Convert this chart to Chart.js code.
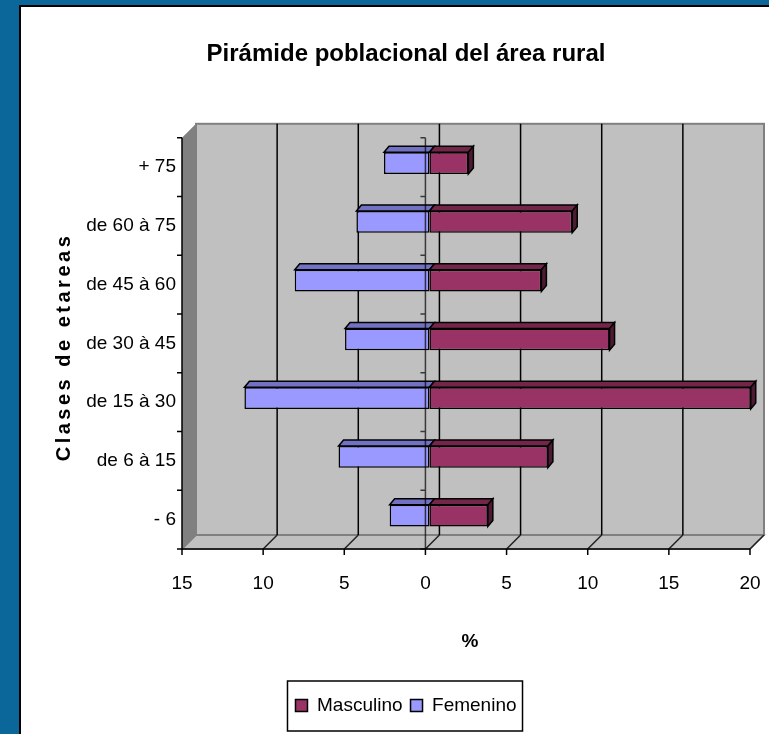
<!DOCTYPE html>
<html>
<head>
<meta charset="utf-8">
<title>Pirámide poblacional del área rural</title>
<script src="https://cdn.jsdelivr.net/npm/chart.js@4.4.1/dist/chart.umd.min.js"></script>
<style>
    html, body { margin: 0; padding: 0; background: #0b6699; overflow: hidden; }
    #frame {
        position: absolute; left: 19px; top: 5px; width: 760px; height: 740px;
        background: #fff; border-left: 2px solid #000; border-top: 2px solid #000;
    }
    #wrap { position: absolute; left: 0; top: 0; width: 769px; height: 734px; }
</style>
</head>
<body>
<div id="frame"></div>
<div id="wrap"><canvas id="pyramidChart"></canvas></div>
<script>
// age classes, top to bottom
const ageGroups = ['+ 75', 'de 60 à 75', 'de 45 à 60', 'de 30 à 45', 'de 15 à 30', 'de 6 à 15', '- 6'];
// percentages
const masculino = [2.4, 8.8, 6.9, 11.1, 19.8, 7.3, 3.6];
const femenino = [2.8, 4.5, 8.3, 5.2, 11.4, 5.6, 2.45];
const xMin = -15;
const xMax = 20;
const xStep = 5;

// 3D look: offsets of the front plane, back wall and bar depth from the bar plane
const front = { dx: -4, dy: 4 };
const back = { dx: 10, dy: -10 };
const barDepth = { dx: 5, dy: -6 };

const FONT = "'Liberation Sans', Arial, sans-serif";
Chart.defaults.font.family = FONT;
Chart.defaults.color = '#000';

function poly(ctx, pts, fill, stroke, lw) {
    ctx.beginPath();
    ctx.moveTo(pts[0][0], pts[0][1]);
    pts.slice(1).forEach(p => ctx.lineTo(p[0], p[1]));
    ctx.closePath();
    if (fill) { ctx.fillStyle = fill; ctx.fill(); }
    if (stroke) { ctx.strokeStyle = stroke; ctx.lineWidth = lw || 1; ctx.stroke(); }
}

// walls, floor, gridlines and front axes
const wallsPlugin = {
    id: 'walls',
    beforeDatasetsDraw(chart) {
        const { ctx, chartArea: a, scales: { x } } = chart;
        ctx.save();
        // left wall
        poly(ctx, [
            [a.left + front.dx, a.top + front.dy], [a.left + back.dx, a.top + back.dy],
            [a.left + back.dx, a.bottom + back.dy], [a.left + front.dx, a.bottom + front.dy]
        ], '#808080');
        // floor
        poly(ctx, [
            [a.left + front.dx, a.bottom + front.dy], [a.left + back.dx, a.bottom + back.dy],
            [a.right + back.dx, a.bottom + back.dy], [a.right + front.dx, a.bottom + front.dy]
        ], '#c0c0c0', '#808080', 1.5);
        // back wall
        ctx.fillStyle = '#c0c0c0';
        ctx.fillRect(a.left + back.dx, a.top + back.dy, a.width, a.height);
        ctx.strokeStyle = '#808080';
        ctx.lineWidth = 2;
        ctx.strokeRect(a.left + back.dx, a.top + back.dy, a.width, a.height);

        // gridlines on the back wall and the floor
        x.ticks.forEach(t => {
            const px = x.getPixelForValue(t.value);
            ctx.lineWidth = 1.5;
            if (t.value > xMin && t.value < xMax) {
                ctx.strokeStyle = '#000';
                ctx.beginPath();
                ctx.moveTo(px + back.dx, a.top + back.dy);
                ctx.lineTo(px + back.dx, a.bottom + back.dy);
                ctx.stroke();
            }
            ctx.strokeStyle = t.value === xMin ? '#808080' : '#222';
            ctx.beginPath();
            ctx.moveTo(px + back.dx, a.bottom + back.dy);
            ctx.lineTo(px + front.dx, a.bottom + front.dy);
            ctx.stroke();
        });

        // front value axis with tick marks
        ctx.strokeStyle = '#000';
        ctx.lineWidth = 1.5;
        ctx.beginPath();
        ctx.moveTo(a.left + front.dx, a.bottom + front.dy);
        ctx.lineTo(a.right + front.dx, a.bottom + front.dy);
        x.ticks.forEach(t => {
            const px = x.getPixelForValue(t.value) + front.dx;
            ctx.moveTo(px, a.bottom + front.dy);
            ctx.lineTo(px, a.bottom + front.dy + 6);
        });
        // front left edge with category tick marks
        ctx.moveTo(a.left + front.dx, a.top + front.dy);
        ctx.lineTo(a.left + front.dx, a.bottom + front.dy);
        for (let i = 0; i <= ageGroups.length; i++) {
            const py = a.top + front.dy + i * a.height / ageGroups.length;
            ctx.moveTo(a.left + front.dx, py);
            ctx.lineTo(a.left + front.dx - 5, py);
        }
        ctx.stroke();
        ctx.restore();
    },
    afterDatasetsDraw(chart) {
        const { ctx, chartArea: a, scales: { x } } = chart;
        ctx.save();
        // depth faces of the bars
        [1, 0].forEach(i => {
            const ds = chart.data.datasets[i];
            chart.getDatasetMeta(i).data.forEach(bar => {
                const { x: bx, y, base, height } = bar.getProps(['x', 'y', 'base', 'height'], true);
                const left = Math.min(bx, base), right = Math.max(bx, base);
                const top = y - height / 2, bottom = y + height / 2;
                poly(ctx, [[left, top], [left + barDepth.dx, top + barDepth.dy],
                    [right + barDepth.dx, top + barDepth.dy], [right, top]], ds.topColor, '#000', 1.5);
                if (bx > base) {
                    poly(ctx, [[right, top], [right + barDepth.dx, top + barDepth.dy],
                        [right + barDepth.dx, bottom + barDepth.dy], [right, bottom]], ds.sideColor, '#000', 1.5);
                }
            });
        });
        // category axis at zero
        const zx = x.getPixelForValue(0) + front.dx;
        ctx.strokeStyle = 'rgba(0,0,0,0.7)';
        ctx.lineWidth = 1.5;
        ctx.beginPath();
        ctx.moveTo(zx, a.top + front.dy);
        ctx.lineTo(zx, a.bottom + front.dy);
        for (let i = 0; i <= ageGroups.length; i++) {
            const py = a.top + front.dy + i * a.height / ageGroups.length;
            ctx.moveTo(zx, py);
            ctx.lineTo(zx - 5, py);
        }
        ctx.stroke();
        ctx.restore();
    },
    afterDraw(chart) {
        const { ctx, legend } = chart;
        ctx.save();
        // y axis title, spaced out letters
        ctx.translate(64, 347);
        ctx.rotate(-Math.PI / 2);
        ctx.font = 'bold 20px ' + FONT;
        ctx.letterSpacing = '3.5px';
        ctx.fillStyle = '#000';
        ctx.textAlign = 'center';
        ctx.textBaseline = 'middle';
        ctx.fillText('Clases de etareas', 0, 0);
        ctx.restore();

        // legend frame
        const hb = legend.legendHitBoxes;
        if (hb && hb.length) {
            const l = Math.min(...hb.map(b => b.left)) - 8;
            const r = Math.max(...hb.map(b => b.left + b.width)) + 6;
            const t = hb[0].top - 15;
            const btm = hb[0].top + hb[0].height + 16;
            ctx.save();
            ctx.strokeStyle = '#000';
            ctx.lineWidth = 1.5;
            ctx.strokeRect(l, t, r - l, btm - t);
            ctx.restore();
        }
    }
};

const ctx = document.getElementById('pyramidChart').getContext('2d');
new Chart(ctx, {
    type: 'bar',
    data: {
        labels: ageGroups,
        datasets: [{
            label: 'Masculino',
            data: masculino,
            backgroundColor: '#993366',
            borderColor: '#000',
            borderWidth: 1.5,
            borderSkipped: false,
            topColor: '#732649',
            sideColor: '#4d1933'
        }, {
            label: 'Femenino',
            data: femenino.map(v => -v),
            backgroundColor: '#9999ff',
            borderColor: '#000',
            borderWidth: 1.5,
            borderSkipped: false,
            topColor: '#7272c4',
            sideColor: '#5a5aa0'
        }]
    },
    options: {
        indexAxis: 'y',
        responsive: true,
        maintainAspectRatio: false,
        animation: false,
        layout: { padding: { left: 58, right: 15, top: 0, bottom: 9 } },
        datasets: { bar: { categoryPercentage: 1, barPercentage: 0.37 } },
        plugins: {
            title: {
                display: true,
                text: 'Pirámide poblacional del área rural',
                font: { size: 24, weight: 'bold' },
                color: '#000',
                padding: { top: 40, bottom: 65 }
            },
            legend: {
                position: 'bottom',
                labels: {
                    font: { size: 19 },
                    boxWidth: 12,
                    boxHeight: 12,
                    padding: 8,
                    color: '#000'
                }
            },
            tooltip: { enabled: false }
        },
        scales: {
            x: {
                type: 'linear',
                stacked: true,
                min: xMin,
                max: xMax,
                grid: { display: false, drawTicks: true, tickLength: 25 },
                border: { display: false },
                ticks: {
                    stepSize: xStep,
                    font: { size: 19 },
                    padding: 2,
                    labelOffset: front.dx,
                    callback: v => Math.abs(v)
                },
                title: {
                    display: true,
                    text: '%',
                    font: { size: 19, weight: 'bold' },
                    padding: { top: 4, bottom: 35 }
                },
                afterFit: scale => { scale.height = 143; }
            },
            y: {
                stacked: true,
                grid: { display: false, drawTicks: false },
                border: { display: false },
                ticks: {
                    font: { size: 19 },
                    padding: 10,
                    labelOffset: front.dy
                },
                afterFit: scale => { scale.width = 128; }
            }
        }
    },
    plugins: [wallsPlugin]
});
</script>
</body>
</html>
